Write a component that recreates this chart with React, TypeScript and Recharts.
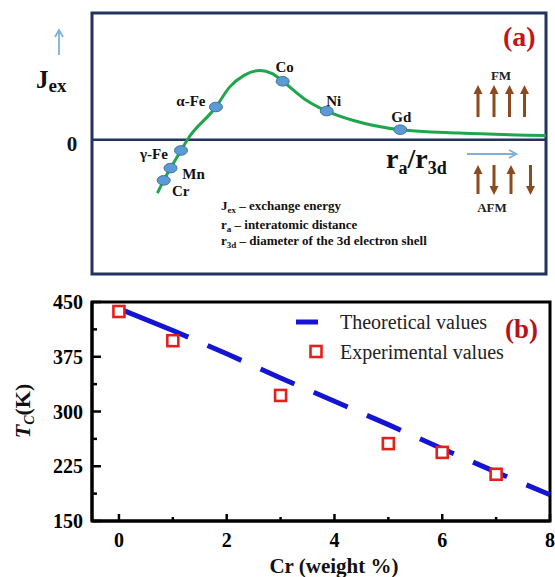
import React from "react";
import {
  ComposedChart,
  Line,
  ReferenceArea,
  ReferenceLine,
  Scatter,
  XAxis,
  YAxis,
} from "recharts";

const FONT = '"Liberation Serif", "Times New Roman", serif';

// (a) Bethe-Slater curve (r_a/r_3d in arbitrary units)
const curveX = [14.4, 15.8, 17.3, 19.6, 21.0, 27.3, 30.3, 33.5, 37.0, 39.7, 42.0, 46.7, 51.7, 57.6, 67.9, 80.9, 100];
const curveJ = [-42.2, -32.1, -22.4, -8.5, 0, 25.8, 41.5, 50.8, 54.7, 52.1, 46.1, 32.4, 22.6, 15.2, 7.9, 5.2, 3.4];

const elementNames = ["Cr", "Mn", "γ-Fe", "α-Fe", "Co", "Ni", "Gd"];
const elementX = [15.8, 17.3, 19.6, 27.3, 42.0, 51.7, 67.9];
const elementJ = [-32.1, -22.4, -8.5, 25.8, 46.1, 22.6, 7.9];

// (b) Curie temperature vs Cr content
const crWeight = [0, 1, 3, 5, 6, 7];
const tcExperimental = [437, 397, 322, 256, 244, 214];
const crTheory = [0, 1, 2, 3, 4, 5, 6, 7, 8];
const tcTheoretical = [441, 411, 379, 346, 314, 282, 249, 217, 186];
const yTicks = [150, 187.5, 225, 262.5, 300, 337.5, 375, 412.5, 450];
const xTicks = [0, 1, 2, 3, 4, 5, 6, 7, 8];

const curveData = curveX.map((x, i) => ({ x, j: curveJ[i] }));
const elementData = elementNames.map((name, i) => ({ name, x: elementX[i], j: elementJ[i] }));
const theoryData = crTheory.map((x, i) => ({ x, tc: tcTheoretical[i] }));
const expData = crWeight.map((x, i) => ({ x, tc: tcExperimental[i] }));

// label placement next to each marker (px)
const labelOffset: Record<string, [number, number]> = {
  Cr: [17, 11],
  Mn: [23, 6],
  "γ-Fe": [-27, 4],
  "α-Fe": [-25, -6],
  Co: [2, -14],
  Ni: [7, -10],
  Gd: [1, -13],
};

const NAVY = "#22335f";
const BROWN = "#8b4a1f";
const SKY = "#7fb0d8";

function ElementDot(props: any) {
  const { cx, cy, payload } = props;
  const [dx, dy] = labelOffset[payload.name] || [0, -12];
  return (
    <g>
      <ellipse cx={cx} cy={cy} rx={6.5} ry={4.8} fill="#5b9bd5" stroke="#41719c" strokeWidth={1} />
      <text
        x={cx + dx}
        y={cy + dy}
        textAnchor="middle"
        dominantBaseline="central"
        fontFamily={FONT}
        fontWeight="bold"
        fontSize={15}
        fill="#111"
      >
        {payload.name}
      </text>
    </g>
  );
}

function ExpSquare(props: any) {
  const { cx, cy } = props;
  return <rect x={cx - 5.5} y={cy - 5.5} width={11} height={11} fill="#fff" stroke="#e3211c" strokeWidth={2.6} />;
}

function YTick(props: any) {
  const { x, y, payload } = props;
  const v = payload.value;
  const major = v % 75 === 0;
  const ax = x + 9;
  return (
    <g>
      <line x1={ax} x2={ax + (major ? 9 : 5)} y1={y} y2={y} stroke="#000" strokeWidth={2.5} />
      {major && (
        <text x={x} y={y + 7} textAnchor="end" fontFamily={FONT} fontWeight="bold" fontSize={20} fill="#000">
          {v}
        </text>
      )}
    </g>
  );
}

function XTick(props: any) {
  const { x, y, payload } = props;
  const v = payload.value;
  const major = v % 2 === 0;
  const ay = y - 10;
  return (
    <g>
      <line x1={x} x2={x} y1={ay} y2={ay - (major ? 7 : 4)} stroke="#000" strokeWidth={2.5} />
      {major && (
        <text x={x} y={ay + 26} textAnchor="middle" fontFamily={FONT} fontWeight="bold" fontSize={20} fill="#000">
          {v}
        </text>
      )}
    </g>
  );
}

function SpinArrow({ x, from, to, color }: { x: number; from: number; to: number; color: string }) {
  const dir = to < from ? -1 : 1;
  return (
    <g>
      <line x1={x} x2={x} y1={from} y2={to - dir * 8} stroke={color} strokeWidth={3} />
      <polygon points={`${x - 4.5},${to - dir * 9} ${x + 4.5},${to - dir * 9} ${x},${to}`} fill={color} />
    </g>
  );
}

const fmX = [478, 494, 509.5, 524.5];
const afmX = [478, 494, 511, 530.5];
const afmUp = [true, false, true, false];

export default function App() {
  return (
    <div style={{ position: "absolute", left: 0, top: 0, width: 555, height: 577, background: "#fff", fontFamily: FONT }}>
      <div style={{ position: "absolute", left: 0, top: 0 }}>
        <ComposedChart width={555} height={280} data={curveData} margin={{ top: 13, right: 9, bottom: 6, left: 92 }}>
          <XAxis type="number" dataKey="x" domain={[0, 100]} hide />
          <YAxis type="number" dataKey="j" domain={[-106, 100]} hide />
          <ReferenceArea x1={0} x2={100} y1={-106} y2={100} fill="none" stroke={NAVY} strokeWidth={3} />
          <ReferenceLine y={0} stroke={NAVY} strokeWidth={2.5} />
          <Line dataKey="j" type="monotone" stroke="#1fa64c" strokeWidth={3} dot={false} isAnimationActive={false} />
          <Scatter data={elementData} dataKey="j" shape={ElementDot} isAnimationActive={false} />
        </ComposedChart>
      </div>

      <div style={{ position: "absolute", left: 0, top: 280 }}>
        <ComposedChart width={555} height={297} data={theoryData} margin={{ top: 22, right: 5, bottom: 26, left: 32 }}>
          <XAxis
            type="number"
            dataKey="x"
            domain={[-0.5, 8]}
            ticks={xTicks}
            interval={0}
            height={30}
            tickSize={0}
            tickMargin={10}
            tickLine={false}
            tick={XTick}
            axisLine={{ stroke: "#000", strokeWidth: 3 }}
          />
          <YAxis
            type="number"
            dataKey="tc"
            domain={[150, 450]}
            ticks={yTicks}
            interval={0}
            width={60}
            tickSize={0}
            tickMargin={9}
            tickLine={false}
            tick={YTick}
            axisLine={{ stroke: "#000", strokeWidth: 3 }}
          />
          <ReferenceArea x1={-0.5} x2={8} y1={150} y2={450} fill="none" stroke="#000" strokeWidth={3} />
          <Line
            dataKey="tc"
            type="linear"
            stroke="#1414d2"
            strokeWidth={5}
            strokeDasharray="75 21 37 21 37 21 37 21 37 21 37 21 37 21 37 21 37 21"
            dot={false}
            isAnimationActive={false}
          />
          <Scatter data={expData} dataKey="tc" shape={ExpSquare} isAnimationActive={false} />
        </ComposedChart>
      </div>

      <svg width={555} height={577} style={{ position: "absolute", left: 0, top: 0, pointerEvents: "none" }} fontFamily={FONT}>
        {/* (a) annotations */}
        <line x1={59} x2={59} y1={55} y2={31} stroke={SKY} strokeWidth={1.8} />
        <polyline points="55,37 59,30 63,37" fill="none" stroke={SKY} strokeWidth={1.8} />
        <text x={36} y={88} fontWeight="bold" fill="#111">
          <tspan fontSize={25}>J</tspan>
          <tspan fontSize={19} dy={4}>ex</tspan>
        </text>
        <text x={72} y={150.5} textAnchor="middle" fontWeight="bold" fontSize={21} fill="#111">0</text>
        <text x={503} y={46} fontWeight="bold" fontSize={28} fill="#c0161c">(a)</text>

        <text x={501} y={79.5} textAnchor="middle" fontWeight="bold" fontSize={13} fill="#222">FM</text>
        {fmX.map((x) => (
          <SpinArrow key={"fm" + x} x={x} from={117} to={85} color={BROWN} />
        ))}

        <text x={386} y={168} fontWeight="bold" fill="#111">
          <tspan fontSize={28}>r</tspan>
          <tspan fontSize={18} dy={6}>a</tspan>
          <tspan fontSize={28} dy={-6}>/r</tspan>
          <tspan fontSize={18} dy={6}>3d</tspan>
        </text>
        <line x1={467} x2={516} y1={154} y2={154} stroke={SKY} strokeWidth={1.8} />
        <polyline points="509,150 516.5,154 509,158" fill="none" stroke={SKY} strokeWidth={1.8} />

        {afmX.map((x, i) => (
          <SpinArrow key={"afm" + x} x={x} from={afmUp[i] ? 194 : 165} to={afmUp[i] ? 165 : 195} color={BROWN} />
        ))}
        <text x={492} y={212} textAnchor="middle" fontWeight="bold" fontSize={13} fill="#222">AFM</text>

        <g fontWeight="bold" fontSize={13} fill="#111">
          <text x={221} y={209.5}>
            <tspan>J</tspan>
            <tspan fontSize={9} dy={3}>ex</tspan>
            <tspan dy={-3}> – exchange energy</tspan>
          </text>
          <text x={221} y={228.5}>
            <tspan>r</tspan>
            <tspan fontSize={9} dy={3}>a</tspan>
            <tspan dy={-3}> – interatomic distance</tspan>
          </text>
          <text x={221} y={245}>
            <tspan>r</tspan>
            <tspan fontSize={9} dy={3}>3d</tspan>
            <tspan dy={-3}> – diameter of the 3d electron shell</tspan>
          </text>
        </g>

        {/* (b) annotations */}
        <line x1={296} x2={318} y1={322} y2={322} stroke="#1414d2" strokeWidth={5} />
        <text x={340} y={328.5} fontSize={20} fill="#222">Theoretical values</text>
        <rect x={310.5} y={346} width={11} height={11} fill="#fff" stroke="#e3211c" strokeWidth={2.6} />
        <text x={340} y={358.5} fontSize={20} fill="#222">Experimental values</text>
        <text x={505} y={338} fontWeight="bold" fontSize={27} fill="#b5121b">(b)</text>

        <text transform="translate(30,411) rotate(-90)" textAnchor="middle" fill="#111" fontWeight="bold">
          <tspan fontSize={22} fontStyle="italic">T</tspan>
          <tspan fontSize={14} fontStyle="italic" dy={4}>C</tspan>
          <tspan fontSize={22} dy={-4}>(K)</tspan>
        </text>
        <text x={334} y={573} textAnchor="middle" fontWeight="bold" fontSize={21} fill="#111">Cr (weight %)</text>
      </svg>
    </div>
  );
}
